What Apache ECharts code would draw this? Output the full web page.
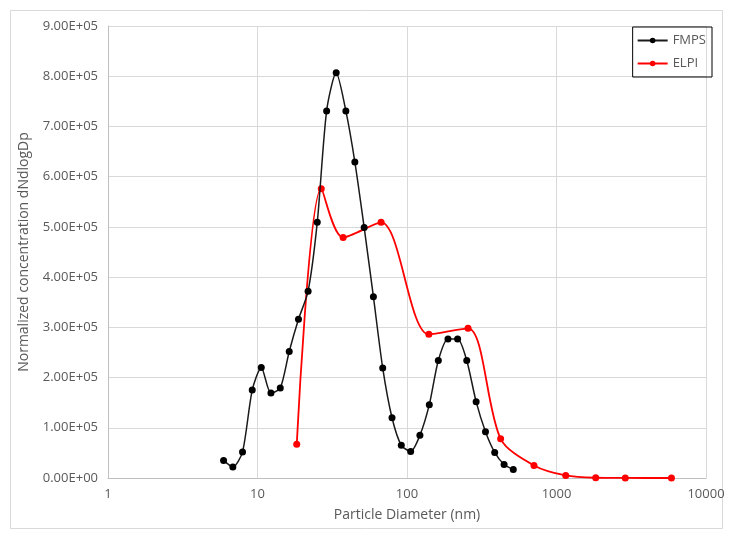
<!doctype html>
<html>
<head>
<meta charset="utf-8">
<script src="https://cdn.jsdelivr.net/npm/echarts@6/dist/echarts.min.js"></script>
<style>
html,body{margin:0;padding:0;background:#fff;}
#main{width:734px;height:537px;}
</style>
</head>
<body>
<div id="main"></div>
<script type="text/javascript">
// particle diameter (nm) and concentration
var fmpsDp = [5.93, 6.84, 7.94, 9.22, 10.6, 12.3, 14.2, 16.3, 18.8, 21.8, 25.1, 29.0, 33.6, 39.0, 44.8, 51.7, 59.6, 68.8, 79.4, 91.6, 105.8, 122, 141, 162, 188, 218, 251, 290, 335, 386, 446, 514];
var fmpsVal = [35000, 22000, 52000, 175000, 220000, 169000, 179000, 252000, 316000, 372000, 509000, 731000, 807000, 731000, 629000, 499000, 361000, 219000, 120000, 65000, 53000, 85000, 146000, 234000, 277000, 277000, 234000, 152000, 92000, 51000, 27000, 17000];

var elpiDp = [18.3, 26.7, 37.4, 67.1, 140, 256, 423, 707, 1153, 1829, 2884, 5873];
var elpiVal = [67000, 576000, 479000, 509000, 286000, 298000, 78000, 25000, 5000, 500, 100, 0];

function pairs(xs, ys) {
    var res = [];
    for (var i = 0; i < xs.length; i++) {
        res.push([xs[i], ys[i]]);
    }
    return res;
}

function sci(v) {
    var s = Number(v).toExponential(2).split('e');
    var e = parseInt(s[1], 10);
    var sign = e < 0 ? '-' : '+';
    var a = Math.abs(e);
    return s[0] + 'E' + sign + (a < 10 ? '0' + a : a);
}

var myChart = echarts.init(document.getElementById('main'));
var font = 'Open Sans, Liberation Sans, sans-serif';

var option = {
    backgroundColor: '#fff',
    animation: false,
    graphic: [{
        type: 'rect',
        shape: {x: 10.5, y: 10.5, width: 712, height: 518},
        style: {fill: 'none', stroke: '#d9d9d9', lineWidth: 1}
    }],
    legend: {
        orient: 'vertical',
        right: 22,
        top: 27,
        itemWidth: 30,
        itemHeight: 7,
        itemGap: 10,
        padding: [7, 6, 7, 4],
        borderColor: '#000',
        borderWidth: 1,
        textStyle: {color: '#595959', fontSize: 13, fontFamily: font},
        data: ['FMPS', 'ELPI']
    },
    grid: {
        left: 108,
        right: 28,
        top: 26,
        bottom: 59
    },
    xAxis: {
        type: 'log',
        logBase: 10,
        min: 1,
        max: 10000,
        name: 'Particle Diameter (nm)',
        nameLocation: 'middle',
        nameGap: 30,
        nameTextStyle: {color: '#595959', fontSize: 14, fontFamily: font},
        axisLine: {lineStyle: {color: '#bfbfbf'}},
        axisTick: {show: false},
        minorTick: {show: false},
        axisLabel: {
            color: '#595959', fontSize: 13, fontFamily: font, margin: 10,
            formatter: function (v) { return String(Math.round(v)); }
        },
        splitLine: {show: true, lineStyle: {color: '#d9d9d9'}}
    },
    yAxis: {
        type: 'value',
        min: 0,
        max: 900000,
        interval: 100000,
        name: 'Normalized concentration dNdlogDp',
        nameLocation: 'middle',
        nameGap: 77,
        nameTextStyle: {color: '#595959', fontSize: 14, fontFamily: font},
        axisLine: {show: true, lineStyle: {color: '#bfbfbf'}},
        axisTick: {show: false},
        axisLabel: {
            color: '#595959', fontSize: 13, fontFamily: font, margin: 10,
            formatter: function (v) { return sci(v); }
        },
        splitLine: {show: true, lineStyle: {color: '#d9d9d9'}}
    },
    series: [
        {
            name: 'FMPS',
            type: 'line',
            data: pairs(fmpsDp, fmpsVal),
            smooth: 0.25,
            symbol: 'circle',
            symbolSize: 7,
            itemStyle: {color: '#000'},
            lineStyle: {color: '#1a1a1a', width: 1.5},
            z: 3
        },
        {
            name: 'ELPI',
            type: 'line',
            data: pairs(elpiDp, elpiVal),
            smooth: 0.3,
            symbol: 'circle',
            symbolSize: 7,
            itemStyle: {color: '#ff0000'},
            lineStyle: {color: '#ff0000', width: 1.8},
            z: 2
        }
    ]
};

myChart.setOption(option);
</script>
</body>
</html>
